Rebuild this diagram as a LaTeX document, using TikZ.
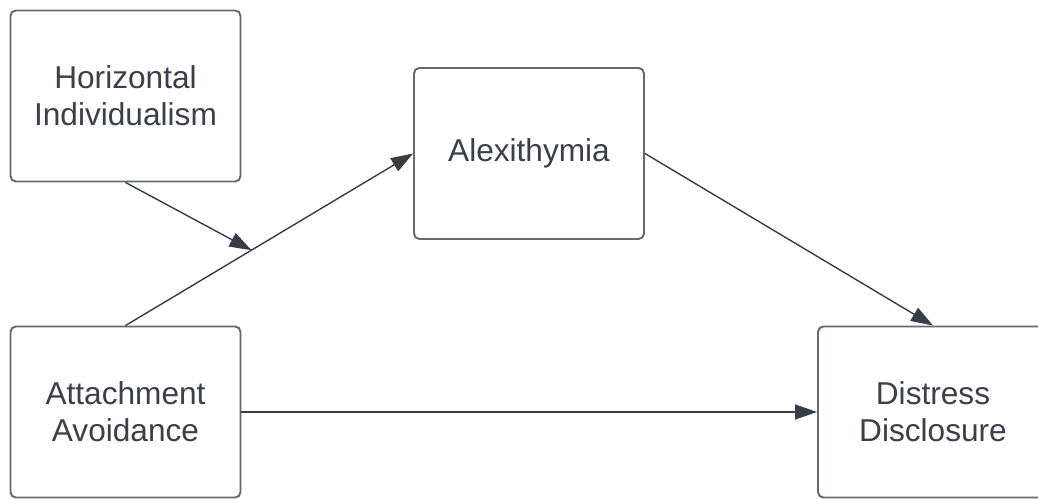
\documentclass[tikz,border=0pt]{standalone}
\usepackage{fontspec}
\setsansfont{Liberation Sans}
\usepackage{xcolor}
\usepackage{tikz}
\usetikzlibrary{arrows.meta, positioning}
\definecolor{boxgray}{RGB}{100, 104, 112}
\definecolor{textdark}{RGB}{58, 63, 74}
\definecolor{arrowdark}{RGB}{55, 60, 70}

\begin{document}
\begin{tikzpicture}[x=0.02cm, y=-0.02cm,
        varbox/.style={rectangle, rounded corners=3pt, draw=boxgray, line width=1.1pt, fill=white,
          minimum width=4.6cm, minimum height=3.42cm, align=center, text=textdark,
          font=\sffamily\fontsize{18}{21.2}\selectfont},
        arr/.style={-{Triangle[length=0.44cm, width=0.3cm]}, line width=0.8pt, color=arrowdark}
      ]
        \useasboundingbox (0,0) rectangle (1038,499);
        \node[varbox] (hi) at (125.5,96) {Horizontal\\Individualism};
        \node[varbox] (alex) at (529,153.5) {Alexithymia};
        \node[varbox] (aa) at (125.5,412) {Attachment\\Avoidance};
        \node[varbox] (dd) at (933,412) {Distress\\Disclosure};
        % paths
        \draw[arr] (aa.north) -- (alex.west) coordinate[pos=0.438] (mod);
        \draw[arr] (hi.south) -- (mod);
        \draw[arr] (alex.east) -- (dd.north);
        \draw[arr] (aa.east) -- (dd.west);
      \end{tikzpicture}
\end{document}
